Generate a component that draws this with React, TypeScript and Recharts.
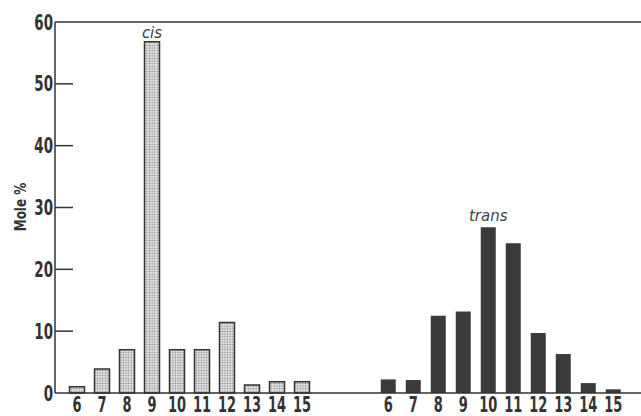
import { Bar, BarChart, LabelList, ReferenceLine, XAxis, YAxis } from "recharts";

// carbon number of the double-bond position, and mole % for each isomer
const CARBONS = ["6", "7", "8", "9", "10", "11", "12", "13", "14", "15"];
const CIS = [1.0, 3.9, 7.0, 56.8, 7.0, 7.0, 11.4, 1.3, 1.8, 1.8];
const TRANS = [2.2, 2.1, 12.5, 13.2, 26.8, 24.2, 9.7, 6.3, 1.6, 0.6];
const Y_TICKS = [0, 10, 20, 30, 40, 50, 60];

// trans group sits to the right of the cis group on the same axis
const TRANS_START = 12.45;

type Row = { pos: number; label: string; cis?: number; trans?: number; tag?: string };

const rows: Row[] = [
  ...CARBONS.map((c, i) => ({
    pos: i,
    label: c,
    cis: CIS[i],
    tag: CIS[i] === Math.max(...CIS) ? "cis" : undefined,
  })),
  ...CARBONS.map((c, i) => ({
    pos: TRANS_START + i,
    label: c,
    trans: TRANS[i],
    tag: TRANS[i] === Math.max(...TRANS) ? "trans" : undefined,
  })),
];

const labelAt = new Map(rows.map((r) => [r.pos, r.label]));

const INK = "#333";
const FONT = "'DejaVu Sans', sans-serif";

// condensed bold numerals, squeezed horizontally
function XTick({ x, y, payload }: any) {
  return (
    <text
      transform={`translate(${x},${y}) scale(0.62,1)`}
      textAnchor="middle"
      dy="0.75em"
      fill={INK}
      fontSize={21}
      fontWeight={700}
      fontFamily={FONT}
    >
      {labelAt.get(payload.value) ?? ""}
    </text>
  );
}

// y ticks point into the plot, label sits left of the axis
function YTick({ x, y, payload }: any) {
  const inner = payload.value !== 0 && payload.value !== 60;
  return (
    <g>
      {inner && <line x1={x + 2} x2={x + 20} y1={y} y2={y} stroke={INK} strokeWidth={1.5} />}
      <text
        transform={`translate(${x},${y}) scale(0.64,1)`}
        textAnchor="end"
        dy="0.36em"
        fill={INK}
        fontSize={21}
        fontWeight={700}
        fontFamily={FONT}
      >
        {payload.value}
      </text>
    </g>
  );
}

const tagStyle = { fill: "#444", fontSize: 15, fontStyle: "italic", fontFamily: FONT };

export default function App() {
  return (
    <div style={{ position: "absolute", left: 0, top: 0, background: "#fff" }}>
      <BarChart
        width={641}
        height={416}
        data={rows}
        margin={{ top: 22, right: 0, bottom: 0, left: 0 }}
      >
        <defs>
          <pattern id="stipple" width="2.6" height="2.6" patternUnits="userSpaceOnUse">
            <rect width="2.6" height="2.6" fill="#ececec" />
            <circle cx="1.3" cy="1.3" r="0.9" fill="#8a8a8a" />
          </pattern>
        </defs>
        <XAxis
          type="number"
          dataKey="pos"
          domain={[-0.88, 22.56]}
          ticks={rows.map((r) => r.pos)}
          interval={0}
          height={23}
          tickLine={false}
          tickSize={0}
          tickMargin={3}
          axisLine={{ stroke: INK, strokeWidth: 1.5 }}
          tick={<XTick />}
        />
        <YAxis
          domain={[0, 60]}
          ticks={Y_TICKS}
          width={55}
          tickSize={0}
          tickMargin={2}
          tickLine={false}
          axisLine={{ stroke: INK, strokeWidth: 1.5 }}
          tick={<YTick />}
        />
        <ReferenceLine y={60} stroke={INK} strokeWidth={1.5} />
        <Bar
          dataKey="cis"
          stackId="a"
          barSize={15}
          fill="url(#stipple)"
          stroke={INK}
          strokeWidth={1.5}
          isAnimationActive={false}
        >
          <LabelList dataKey="tag" position="top" offset={4} style={tagStyle} />
        </Bar>
        <Bar dataKey="trans" stackId="a" barSize={15} fill="#3a3a3a" isAnimationActive={false}>
          <LabelList dataKey="tag" position="top" offset={6} style={tagStyle} />
        </Bar>
        {/* y-axis title, condensed like the numerals */}
        <text
          transform="translate(20,207) rotate(-90) scale(0.75,1)"
          textAnchor="middle"
          dy="0.36em"
          fill={INK}
          fontSize={16}
          fontWeight={700}
          fontFamily={FONT}
        >
          Mole %
        </text>
      </BarChart>
    </div>
  );
}
